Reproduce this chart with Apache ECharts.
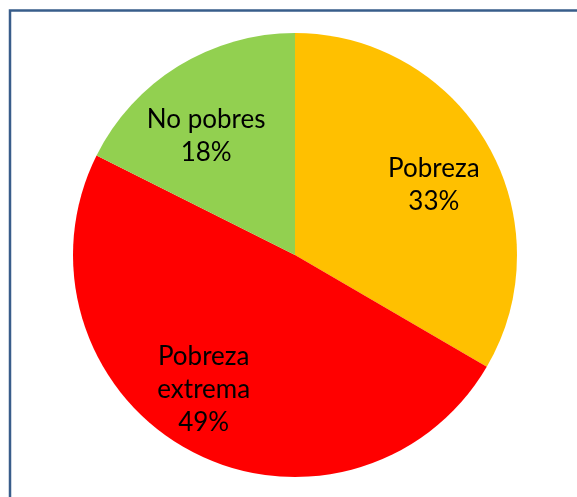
<!DOCTYPE html>
<html>
<head>
<meta charset="utf-8">
<script src="https://cdn.jsdelivr.net/npm/echarts@6/dist/echarts.min.js"></script>
<style>
  html, body { margin: 0; padding: 0; background: #fff; }
  #chart { width: 577px; height: 497px; }
</style>
</head>
<body>
<div id="chart"></div>
<script>
// slices, clockwise from 12 o'clock
const categories = ['Pobreza', 'Pobreza\nextrema', 'No pobres']
const shares = [33.4, 49.0, 17.6]
const colors = ['#FFC000', '#FF0000', '#92D050']

// nudges from the default inside label spot, to sit like the original
const labelShift = [[40, -13], [-37, 34], [-29, -22]]

const chart = echarts.init(document.getElementById('chart'))

chart.setOption({
  animation: false,
  backgroundColor: '#fff',
  graphic: [
    {
      type: 'rect',
      shape: { x: 10, y: 10.5, width: 700, height: 700 },
      style: { fill: 'none', stroke: '#385D8A', lineWidth: 2.5 },
      silent: true,
    },
  ],
  series: [
    {
      type: 'pie',
      center: [295, 255],
      radius: 222,
      startAngle: 90,
      clockwise: true,
      silent: true,
      itemStyle: { borderWidth: 0 },
      label: {
        position: 'inside',
        color: '#000',
        fontFamily: 'Lato',
        fontSize: 26,
        lineHeight: 33,
        align: 'center',
        formatter: (p) => `${p.name}\n${Math.round(p.value)}%`,
      },
      labelLine: { show: false },
      labelLayout: (params) => ({
        dx: labelShift[params.dataIndex][0],
        dy: labelShift[params.dataIndex][1],
      }),
      data: categories.map((name, i) => ({
        name,
        value: shares[i],
        itemStyle: { color: colors[i] },
      })),
    },
  ],
})
</script>
</body>
</html>
